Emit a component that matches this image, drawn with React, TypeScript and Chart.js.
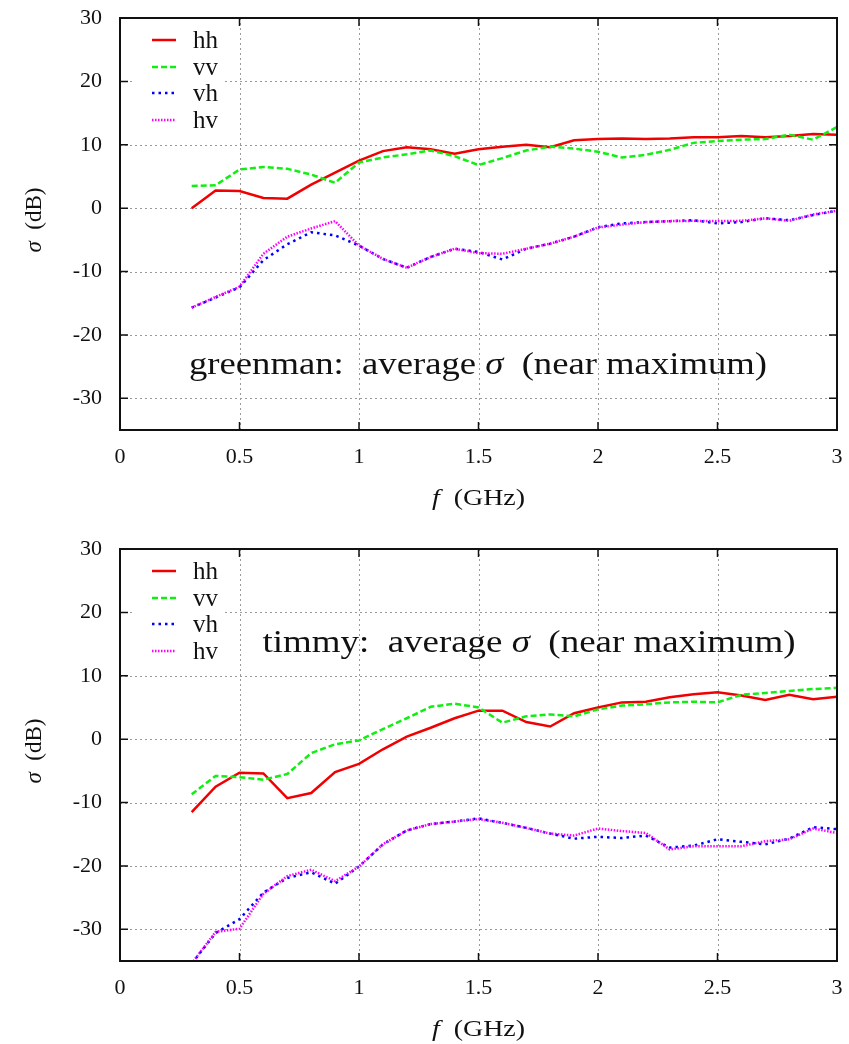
import React, { useEffect, useRef } from "react";
import { Chart, registerables } from "chart.js";

Chart.register(...registerables);

// ---------- data ----------
const FREQ = [
  0.3, 0.4, 0.5, 0.6, 0.7, 0.8, 0.9, 1.0, 1.1, 1.2, 1.3, 1.4, 1.5, 1.6, 1.7,
  1.8, 1.9, 2.0, 2.1, 2.2, 2.3, 2.4, 2.5, 2.6, 2.7, 2.8, 2.9, 3.0,
];
const X_TICKS = [0, 0.5, 1, 1.5, 2, 2.5, 3];
const Y_TICKS = [-30, -20, -10, 0, 10, 20, 30];
const SERIES_NAMES = ["hh", "vv", "vh", "hv"];

const GREENMAN_HH = [
  0, 2.8, 2.7, 1.6, 1.5, 3.7, 5.6, 7.5, 9.0, 9.6, 9.3, 8.6, 9.3, 9.7, 10.0,
  9.6, 10.7, 10.9, 11.0, 10.9, 11.0, 11.2, 11.2, 11.4, 11.2, 11.4, 11.7, 11.6,
];
const GREENMAN_VV = [
  3.5, 3.6, 6.1, 6.5, 6.2, 5.3, 4.0, 7.2, 8.0, 8.5, 9.1, 8.2, 6.8, 7.9, 9.1,
  9.7, 9.4, 8.9, 8.0, 8.4, 9.2, 10.3, 10.6, 10.8, 10.9, 11.6, 10.8, 12.8,
];
const GREENMAN_VH = [
  -15.7, -14.1, -12.5, -8.2, -5.7, -3.8, -4.3, -5.9, -8.0, -9.4, -7.7, -6.4,
  -6.9, -8.1, -6.4, -5.6, -4.5, -3.0, -2.4, -2.2, -2.05, -1.9, -2.4, -2.2,
  -1.6, -1.9, -1.1, -0.4,
];
const GREENMAN_HV = [
  -15.7, -14.0, -12.4, -7.2, -4.5, -3.2, -2.05, -5.9, -8.0, -9.4, -7.7, -6.4,
  -7.1, -7.2, -6.4, -5.6, -4.5, -3.05, -2.6, -2.2, -2.05, -2.0, -2.05, -2.0,
  -1.6, -2.0, -1.0, -0.4,
];

const TIMMY_HH = [
  -11.5, -7.5, -5.3, -5.4, -9.3, -8.5, -5.2, -3.9, -1.6, 0.4, 1.8, 3.3, 4.5,
  4.5, 2.7, 2.0, 4.1, 5.0, 5.8, 5.9, 6.6, 7.1, 7.4, 6.9, 6.2, 7.0, 6.3, 6.7,
];
const TIMMY_VV = [
  -8.7, -5.8, -6.0, -6.4, -5.5, -2.2, -0.8, -0.2, 1.6, 3.3, 5.1, 5.6, 5.0,
  2.6, 3.6, 3.9, 3.6, 4.7, 5.3, 5.5, 5.8, 5.9, 5.8, 7.0, 7.3, 7.6, 7.9, 8.1,
];
const TIMMY_VH = [
  -35.4, -30.6, -28.4, -24.2, -21.9, -21.0, -22.8, -20.1, -16.6, -14.4, -13.4,
  -13.0, -12.5, -13.2, -14.0, -14.9, -15.7, -15.4, -15.6, -15.2, -17.1, -16.8,
  -15.8, -16.2, -16.6, -15.7, -13.9, -14.2,
];
const TIMMY_HV = [
  -35.4, -30.4, -29.9, -24.4, -21.6, -20.6, -22.4, -20.1, -16.6, -14.4, -13.4,
  -13.0, -12.6, -13.2, -14.0, -14.9, -15.2, -14.1, -14.5, -14.8, -17.4, -16.9,
  -16.9, -16.9, -16.1, -15.8, -14.1, -14.8,
];

// ---------- styles ----------
const SERIF = "'Liberation Serif', 'DejaVu Serif', serif";
const STYLES = [
  { color: "#f00000", dash: [] as number[] },
  { color: "#11ee11", dash: [6, 3] },
  { color: "#0000ff", dash: [2.5, 4] },
  { color: "#ff00ff", dash: [1.5, 1.5] },
];
const CANVAS_W = 849;
const CANVAS_H = 531;
const PLOT_BOTTOM = 430;

type Part = { t: string; i?: boolean };

function fontStr(size: number, italic?: boolean) {
  return `${italic ? "italic " : ""}${size}px ${SERIF}`;
}

function partsWidth(ctx: CanvasRenderingContext2D, parts: Part[], size: number) {
  let w = 0;
  for (const p of parts) {
    ctx.font = fontStr(size, p.i);
    w += ctx.measureText(p.t).width;
  }
  return w;
}

// draws text parts centred at cx, horizontally stretched to targetW
function drawParts(
  ctx: CanvasRenderingContext2D,
  parts: Part[],
  cx: number,
  baseline: number,
  size: number,
  targetW?: number
) {
  const total = partsWidth(ctx, parts, size);
  const sx = targetW ? targetW / total : 1;
  ctx.save();
  ctx.translate(cx, baseline);
  ctx.scale(sx, 1);
  let x = -total / 2;
  ctx.textBaseline = "alphabetic";
  ctx.textAlign = "left";
  for (const p of parts) {
    ctx.font = fontStr(size, p.i);
    ctx.fillText(p.t, x, 0);
    x += ctx.measureText(p.t).width;
  }
  ctx.restore();
}

const panelPlugin = {
  id: "panel",
  beforeDatasetsDraw(chart: any) {
    const { ctx, chartArea: a, scales } = chart;
    ctx.save();
    ctx.strokeStyle = "#9a9a9a";
    ctx.lineWidth = 1;
    ctx.setLineDash([2, 3]);
    for (const v of X_TICKS) {
      const px = Math.round(scales.x.getPixelForValue(v)) + 0.5;
      ctx.beginPath();
      ctx.moveTo(px, a.top);
      ctx.lineTo(px, a.bottom);
      ctx.stroke();
    }
    for (const v of Y_TICKS) {
      const py = Math.round(scales.y.getPixelForValue(v)) + 0.5;
      ctx.beginPath();
      ctx.moveTo(a.left, py);
      ctx.lineTo(a.right, py);
      ctx.stroke();
    }
    ctx.setLineDash([]);
    // legend key background
    ctx.fillStyle = "#ffffff";
    ctx.fillRect(a.left + 15, a.top + 8, 88, 106);
    ctx.restore();
  },
  afterDatasetsDraw(chart: any, _args: any, opts: any) {
    const { ctx, chartArea: a, scales } = chart;
    ctx.save();
    // border
    ctx.strokeStyle = "#111";
    ctx.lineWidth = 2;
    ctx.setLineDash([]);
    ctx.strokeRect(a.left, a.top, a.right - a.left, a.bottom - a.top);
    // inward ticks
    ctx.lineWidth = 1.5;
    ctx.beginPath();
    for (const v of X_TICKS) {
      const px = scales.x.getPixelForValue(v);
      ctx.moveTo(px, a.bottom);
      ctx.lineTo(px, a.bottom - 8);
      ctx.moveTo(px, a.top);
      ctx.lineTo(px, a.top + 8);
    }
    for (const v of Y_TICKS) {
      const py = scales.y.getPixelForValue(v);
      ctx.moveTo(a.left, py);
      ctx.lineTo(a.left + 8, py);
      ctx.moveTo(a.right, py);
      ctx.lineTo(a.right - 8, py);
    }
    ctx.stroke();

    // legend
    const rows = [22, 49, 75, 102];
    chart.data.datasets.forEach((ds: any, i: number) => {
      const y = a.top + rows[i];
      ctx.strokeStyle = ds.borderColor;
      ctx.lineWidth = ds.borderWidth;
      ctx.setLineDash(ds.borderDash || []);
      ctx.beginPath();
      ctx.moveTo(a.left + 32, y);
      ctx.lineTo(a.left + 56, y);
      ctx.stroke();
      ctx.setLineDash([]);
      ctx.fillStyle = "#111";
      ctx.font = fontStr(25);
      ctx.textAlign = "left";
      ctx.textBaseline = "alphabetic";
      ctx.fillText(ds.label, a.left + 73, y + 8);
    });

    // annotation
    ctx.fillStyle = "#111";
    drawParts(ctx, opts.label as Part[], opts.labelX, a.top + opts.labelDy, 31, opts.labelWidth);

    // x title
    drawParts(ctx, [{ t: "f", i: true }, { t: "  (GHz)" }], (a.left + a.right) / 2, a.bottom + 75, 23, 93);

    // y title
    ctx.save();
    ctx.translate(41, (a.top + a.bottom) / 2 - 4);
    ctx.rotate(-Math.PI / 2);
    drawParts(ctx, [{ t: "σ", i: true }, { t: "  (dB)" }], 0, 0, 23, 65);
    ctx.restore();

    ctx.restore();
  },
};

type PanelProps = {
  series: number[][];
  label: Part[];
  labelX: number;
  labelDy: number;
  labelWidth: number;
};

function Panel({ series, label, labelX, labelDy, labelWidth }: PanelProps) {
  const ref = useRef<HTMLCanvasElement>(null);
  useEffect(() => {
    if (!ref.current) return;
    const tickFont = { size: 22, family: SERIF };
    const chart = new Chart(ref.current, {
      type: "line",
      data: {
        datasets: series.map((vals, i) => ({
          label: SERIES_NAMES[i],
          data: FREQ.map((f, j) => ({ x: f, y: vals[j] })),
          borderColor: STYLES[i].color,
          backgroundColor: STYLES[i].color,
          borderDash: STYLES[i].dash,
          borderWidth: 2.5,
          borderCapStyle: "butt",
          pointRadius: 0,
          tension: 0,
          fill: false,
          order: 4 - i,
        })),
      },
      options: {
        animation: false,
        responsive: false,
        maintainAspectRatio: false,
        events: [],
        layout: { padding: { left: 0, right: 12, top: 18, bottom: 0 } },
        plugins: {
          legend: { display: false },
          tooltip: { enabled: false },
          panel: { label, labelX, labelDy, labelWidth },
        } as any,
        scales: {
          x: {
            type: "linear",
            min: 0,
            max: 3,
            afterBuildTicks: (s: any) => {
              s.ticks = X_TICKS.map((v) => ({ value: v }));
            },
            afterFit: (s: any) => {
              s.height = CANVAS_H - PLOT_BOTTOM;
              s.paddingLeft = 0;
              s.paddingRight = 0;
            },
            grid: { display: false, drawTicks: false },
            border: { display: false },
            ticks: {
              padding: 14,
              color: "#111",
              font: tickFont,
              maxRotation: 0,
              autoSkip: false,
              callback: (v: any) => String(v),
            },
          },
          y: {
            type: "linear",
            min: -35,
            max: 30,
            afterBuildTicks: (s: any) => {
              s.ticks = Y_TICKS.map((v) => ({ value: v }));
            },
            afterFit: (s: any) => {
              s.width = 120;
              s.paddingTop = 0;
              s.paddingBottom = 0;
            },
            grid: { display: false, drawTicks: false },
            border: { display: false },
            ticks: {
              padding: 18,
              color: "#111",
              font: tickFont,
              autoSkip: false,
              callback: (v: any) => String(v),
            },
          },
        },
      } as any,
      plugins: [panelPlugin as any],
    });
    return () => chart.destroy();
  }, []);
  return (
    <canvas
      ref={ref}
      width={CANVAS_W}
      height={CANVAS_H}
      style={{ display: "block", width: CANVAS_W, height: CANVAS_H }}
    />
  );
}

export default function App() {
  return (
    <div
      style={{
        position: "fixed",
        left: 0,
        top: 0,
        width: 849,
        height: 1044,
        overflow: "hidden",
        background: "#fff",
      }}
    >
      <Panel
        series={[GREENMAN_HH, GREENMAN_VV, GREENMAN_VH, GREENMAN_HV]}
        label={[{ t: "greenman:  average " }, { t: "σ", i: true }, { t: "  (near maximum)" }]}
        labelX={478}
        labelDy={356}
        labelWidth={578}
      />
      <Panel
        series={[TIMMY_HH, TIMMY_VV, TIMMY_VH, TIMMY_HV]}
        label={[{ t: "timmy:  average " }, { t: "σ", i: true }, { t: "  (near maximum)" }]}
        labelX={529}
        labelDy={103}
        labelWidth={533}
      />
    </div>
  );
}
